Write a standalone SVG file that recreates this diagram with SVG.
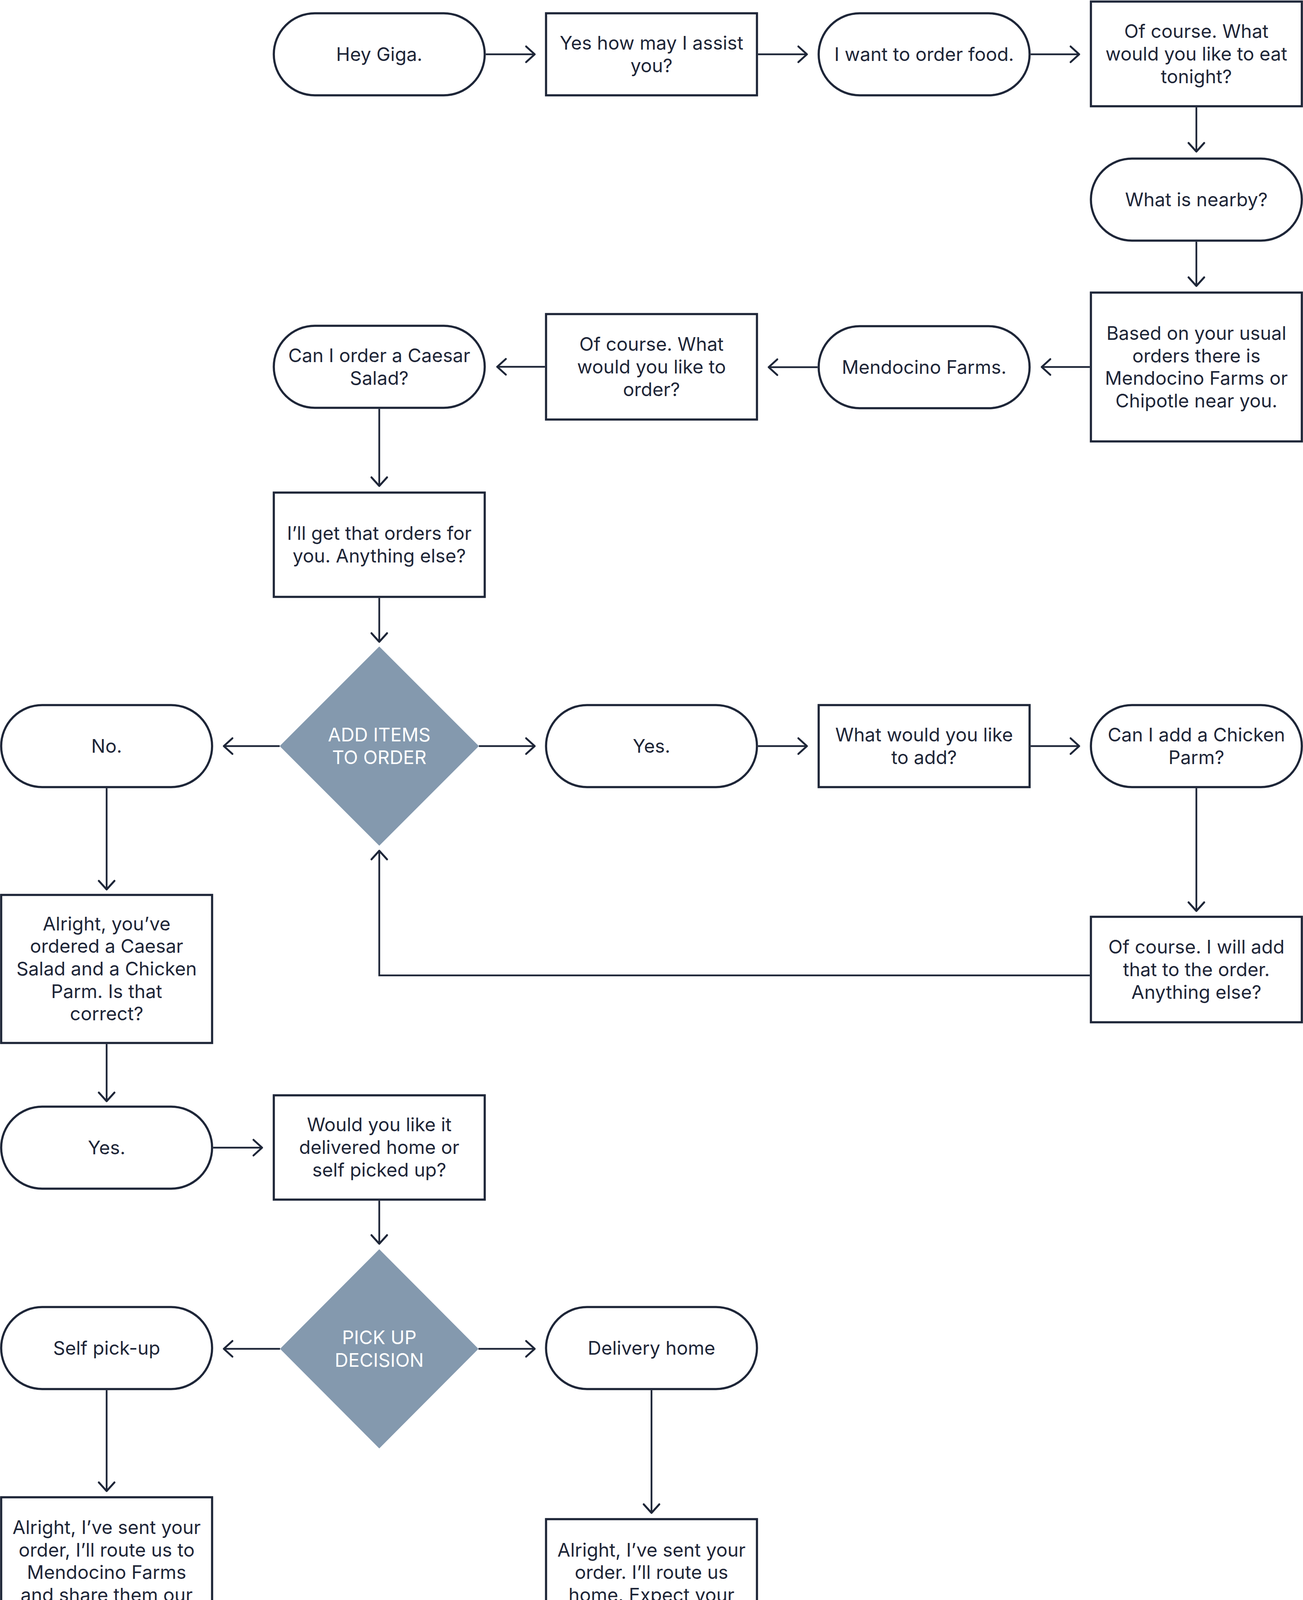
<svg xmlns="http://www.w3.org/2000/svg" width="3336" height="4908" viewBox="0 0 3336 4908">
<defs>
<style>
.sh{fill:#ffffff;stroke:#1e2638;stroke-width:5.5}
.dm{fill:#8499ae;stroke:none}
.gr{fill:#a9a9a9;stroke:none}
.t{font-family:Inter,"Noto Sans","Liberation Sans",sans-serif;font-size:48px;fill:#1e2638;text-anchor:middle}
.tw{font-family:Inter,"Noto Sans","Liberation Sans",sans-serif;font-size:48px;fill:#ffffff;text-anchor:middle}
.c{fill:none;stroke:#1e2638;stroke-width:4.5;marker-end:url(#arr)}
</style>
<marker id="arr" markerUnits="userSpaceOnUse" markerWidth="60" markerHeight="60" viewBox="-30 -30 60 60" refX="0" refY="0" orient="auto">
<path d="M-22,-20 L0,0 L-22,20" fill="none" stroke="#1e2638" stroke-width="5" stroke-linecap="round" stroke-linejoin="round"/>
</marker>
</defs>
<rect width="3336" height="4908" fill="#ffffff"/>

<g id="connectors">
<path class="c" d="M1243.75,139 H1369"/>
<path class="c" d="M1940.75,139 H2066"/>
<path class="c" d="M2638.75,139 H2763"/>
<path class="c" d="M3063,274.75 V388"/>
<path class="c" d="M3063,618.75 V732"/>
<path class="c" d="M2790.25,939.5 H2667"/>
<path class="c" d="M2093.25,940 H1968"/>
<path class="c" d="M1395.25,939 H1273"/>
<path class="c" d="M971,1046.75 V1244"/>
<path class="c" d="M971,1530.75 V1643"/>
<path class="c" d="M716,1910 H573"/>
<path class="c" d="M1226,1910 H1369"/>
<path class="c" d="M1940.75,1910 H2066"/>
<path class="c" d="M2638.75,1910 H2763"/>
<path class="c" d="M3063,2017.75 V2332"/>
<path class="c" d="M2790.25,2497 H971 V2178"/>
<path class="c" d="M273,2017.75 V2277"/>
<path class="c" d="M273,2672.75 V2819"/>
<path class="c" d="M545.75,2938 H671"/>
<path class="c" d="M971,3073.75 V3184"/>
<path class="c" d="M717,3453 H573"/>
<path class="c" d="M1225,3453 H1369"/>
<path class="c" d="M273,3558.75 V3817"/>
<path class="c" d="M1668,3558.75 V3873"/>
<path class="c" d="M273,4392.75 V4500"/>
<path class="c" d="M1668,4336.75 V4500"/>
</g>

<g id="n1"><rect class="sh" x="701" y="34" width="540" height="210" rx="105"/><text class="t" x="971" y="156">Hey Giga.</text></g>
<g id="n2"><rect class="sh" x="1398" y="34" width="540" height="210"/><text class="t"><tspan x="1668" y="127.2">Yes how may I assist</tspan><tspan x="1668" y="184.8">you?</tspan></text></g>
<g id="n3"><rect class="sh" x="2096" y="34" width="540" height="210" rx="105"/><text class="t" x="2366" y="156">I want to order food.</text></g>
<g id="n4"><rect class="sh" x="2793" y="4" width="540" height="268"/><text class="t"><tspan x="3063" y="97.4">Of course. What</tspan><tspan x="3063" y="155">would you like to eat</tspan><tspan x="3063" y="212.6">tonight?</tspan></text></g>
<g id="n5"><rect class="sh" x="2793" y="406" width="540" height="210" rx="105"/><text class="t" x="3063" y="528">What is nearby?</text></g>
<g id="n6"><rect class="sh" x="2793" y="749" width="540" height="381"/><text class="t"><tspan x="3063" y="870.1">Based on your usual</tspan><tspan x="3063" y="927.7">orders there is</tspan><tspan x="3063" y="985.3">Mendocino Farms or</tspan><tspan x="3063" y="1042.9">Chipotle near you.</tspan></text></g>
<g id="n7"><rect class="sh" x="2096" y="835" width="540" height="210" rx="105"/><text class="t" x="2366" y="957">Mendocino Farms.</text></g>
<g id="n8"><rect class="sh" x="1398" y="804" width="540" height="270"/><text class="t"><tspan x="1668" y="898.4">Of course. What</tspan><tspan x="1668" y="956">would you like to</tspan><tspan x="1668" y="1013.6">order?</tspan></text></g>
<g id="n9"><rect class="sh" x="701" y="834" width="540" height="210" rx="105"/><text class="t"><tspan x="971" y="927.2">Can I order a Caesar</tspan><tspan x="971" y="984.8">Salad?</tspan></text></g>
<g id="n10"><rect class="sh" x="701" y="1261" width="540" height="267"/><text class="t"><tspan x="971" y="1382.2">I’ll get that orders for</tspan><tspan x="971" y="1439.8">you. Anything else?</tspan></text></g>
<g id="d1"><polygon class="dm" points="971,1655 1226,1910 971,2165 716,1910"/><text class="tw"><tspan x="971" y="1898.2">ADD ITEMS</tspan><tspan x="971" y="1955.8">TO ORDER</tspan></text></g>
<g id="n11"><rect class="sh" x="3" y="1805" width="540" height="210" rx="105"/><text class="t" x="273" y="1927">No.</text></g>
<g id="n12"><rect class="sh" x="1398" y="1805" width="540" height="210" rx="105"/><text class="t" x="1668" y="1927">Yes.</text></g>
<g id="n13"><rect class="sh" x="2096" y="1805" width="540" height="210"/><text class="t"><tspan x="2366" y="1898.2">What would you like</tspan><tspan x="2366" y="1955.8">to add?</tspan></text></g>
<g id="n14"><rect class="sh" x="2793" y="1805" width="540" height="210" rx="105"/><text class="t"><tspan x="3063" y="1898.2">Can I add a Chicken</tspan><tspan x="3063" y="1955.8">Parm?</tspan></text></g>
<g id="n15"><rect class="sh" x="2793" y="2347" width="540" height="270"/><text class="t"><tspan x="3063" y="2441.4">Of course. I will add</tspan><tspan x="3063" y="2499">that to the order.</tspan><tspan x="3063" y="2556.6">Anything else?</tspan></text></g>
<g id="n16"><rect class="sh" x="3" y="2291" width="540" height="379"/><text class="t"><tspan x="273" y="2381.8">Alright, you’ve</tspan><tspan x="273" y="2439.4">ordered a Caesar</tspan><tspan x="273" y="2497">Salad and a Chicken</tspan><tspan x="273" y="2554.6">Parm. Is that</tspan><tspan x="273" y="2612.2">correct?</tspan></text></g>
<g id="n17"><rect class="sh" x="3" y="2833" width="540" height="210" rx="105"/><text class="t" x="273" y="2955">Yes.</text></g>
<g id="n18"><rect class="sh" x="701" y="2804" width="540" height="267"/><text class="t"><tspan x="971" y="2896.4">Would you like it</tspan><tspan x="971" y="2954">delivered home or</tspan><tspan x="971" y="3011.6">self picked up?</tspan></text></g>
<g id="d2"><polygon class="dm" points="971,3198 1225,3453 971,3708 717,3453"/><text class="tw"><tspan x="971" y="3441.2">PICK UP</tspan><tspan x="971" y="3498.8">DECISION</tspan></text></g>
<g id="n19"><rect class="sh" x="3" y="3346" width="540" height="210" rx="105"/><text class="t" x="273" y="3468">Self pick-up</text></g>
<g id="n20"><rect class="sh" x="1398" y="3346" width="540" height="210" rx="105"/><text class="t" x="1668" y="3468">Delivery home</text></g>
<g id="n21"><rect class="sh" x="3" y="3833" width="540" height="557"/><text class="t"><tspan x="273" y="3926.9">Alright, I’ve sent your</tspan><tspan x="273" y="3984.5">order, I’ll route us to</tspan><tspan x="273" y="4042.1">Mendocino Farms</tspan><tspan x="273" y="4099.7">and share them our</tspan><tspan x="273" y="4157.3">ETA for pick up. Your</tspan><tspan x="273" y="4214.9">order will be ready</tspan><tspan x="273" y="4272.5">for pick up at</tspan><tspan x="273" y="4330.1">7:30pm.</tspan></text></g>
<g id="n22"><rect class="sh" x="1398" y="3889" width="540" height="445"/><text class="t"><tspan x="1668" y="3984.5">Alright, I’ve sent your</tspan><tspan x="1668" y="4042.1">order. I’ll route us</tspan><tspan x="1668" y="4099.7">home. Expect your</tspan><tspan x="1668" y="4157.3">order to arrive by the</tspan><tspan x="1668" y="4214.9">time you reach</tspan><tspan x="1668" y="4272.5">home.</tspan></text></g>
<g id="g1"><rect class="gr" x="0" y="4514" width="546" height="394"/><text class="tw"><tspan x="273" y="4641.6">Send order to</tspan><tspan x="273" y="4699.2">restaurant and</tspan><tspan x="273" y="4756.8">request pick up time</tspan><tspan x="273" y="4814.4">according to ETA</tspan></text></g>
<g id="g2"><rect class="gr" x="1395" y="4514" width="546" height="394"/><text class="tw"><tspan x="1668" y="4641.6">Send order to</tspan><tspan x="1668" y="4699.2">restaurant and</tspan><tspan x="1668" y="4756.8">request delivery time</tspan><tspan x="1668" y="4814.4">according to ETA</tspan></text></g>
</svg>
